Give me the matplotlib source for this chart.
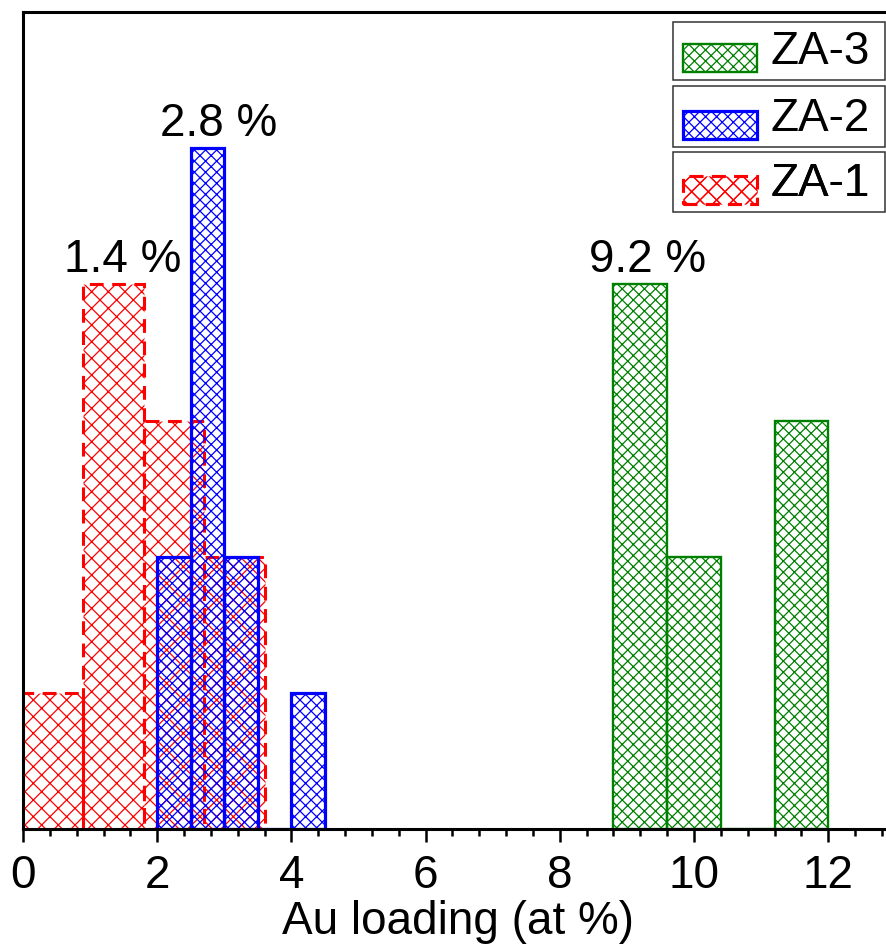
import numpy as np
import matplotlib
matplotlib.use("Agg")
import matplotlib.pyplot as plt
from matplotlib.ticker import MultipleLocator
from matplotlib.patches import Rectangle
from matplotlib.legend_handler import HandlerPatch

plt.rcParams['font.family'] = ['Liberation Sans', 'DejaVu Sans']
plt.rcParams['hatch.linewidth'] = 0.9

# Histogram bin edges and counts for each sample
za1_edges = [0.0, 0.9, 1.8, 2.7, 3.6]
za1_counts = [1, 4, 3, 2]
za2_edges = [2.0, 2.5, 3.0, 3.5, 4.0, 4.5]
za2_counts = [2, 5, 2, 0, 1]
za3_edges = [8.8, 9.6, 10.4, 11.2, 12.0]
za3_counts = [4, 2, 0, 3]

# Mean Au loading of each sample, written over its tallest bin
mean_labels = ["1.4 %", "2.8 %", "9.2 %"]
mean_x = [1.48, 2.92, 9.31]
mean_y = [4, 5, 4]

x_ticks = [0, 2, 4, 6, 8, 10, 12]

W, H = 886, 945
FS = 33

fig = plt.figure(figsize=(W / 100, H / 100), dpi=100)
ax = fig.add_axes([23 / W, 115 / H, 863 / W, 817 / H])


def hist_bars(edges, counts, color, hatch, lw, ls):
    edges = np.asarray(edges)
    widths = np.diff(edges)
    return ax.bar(edges[:-1], counts, width=widths, align='edge',
                  facecolor='none', edgecolor=color, hatch=hatch,
                  linewidth=lw, linestyle=ls)


b1 = hist_bars(za1_edges, za1_counts, '#ff0000', 'xx', 2.2, (0, (4.5, 2.8)))
b2 = hist_bars(za2_edges, za2_counts, '#0000ff', 'xxx', 2.3, '-')
b3 = hist_bars(za3_edges, za3_counts, '#008000', 'xxx', 1.7, '-')

for txt, x, y in zip(mean_labels, mean_x, mean_y):
    ax.text(x, y + 0.1, txt, ha='center', va='baseline', fontsize=FS)

ax.set_xlim(0, 863 / 67.1)
ax.set_ylim(0, 6)
ax.set_xticks(x_ticks)
ax.set_xticklabels([str(t) for t in x_ticks])
ax.xaxis.set_minor_locator(MultipleLocator(0.4))
ax.set_yticks([])
ax.tick_params(axis='x', which='major', direction='out', length=9.5,
               width=1.8, labelsize=FS, pad=7.5)
ax.tick_params(axis='x', which='minor', direction='out', length=5, width=1.8)
ax.set_xlabel("Au loading (at %)", fontsize=FS)
ax.xaxis.label.set_va('top')
ax.xaxis.set_label_coords(0.504, -70 / 817)

for side in ['left', 'bottom', 'top']:
    ax.spines[side].set_linewidth(2.2)
ax.spines['right'].set_visible(False)


def lowered_patch(legend, orig_handle, xdescent, ydescent, width, height,
                  fontsize):
    # swatch sits a little below the text centre line
    return Rectangle((-xdescent, -ydescent - 8.3), width, height)


# One framed legend entry per sample, stacked in the top-right corner
entries = [(b3, "ZA-3", 23, 81, 33), (b2, "ZA-2", 87, 148, 100),
           (b1, "ZA-1", 153, 213, 165)]
for bars, label, ytop, ybot, cap in entries:
    h = bars.patches[0]
    leg = ax.legend([h], [label], loc='upper left',
                    bbox_to_anchor=(683 / W, (H - cap + 3) / H),
                    bbox_transform=fig.transFigure, fontsize=FS,
                    frameon=False, handlelength=1.62, handleheight=0.57,
                    handletextpad=0.3, borderpad=0, borderaxespad=0,
                    handler_map={h: HandlerPatch(patch_func=lowered_patch)})
    ax.add_artist(leg)
    fig.patches.append(Rectangle((673 / W, (H - ybot) / H), 212 / W,
                                 (ybot - ytop) / H, transform=fig.transFigure,
                                 facecolor='none', edgecolor='#333333',
                                 linewidth=1.1, zorder=5))

fig.savefig("out.png", dpi=100)
